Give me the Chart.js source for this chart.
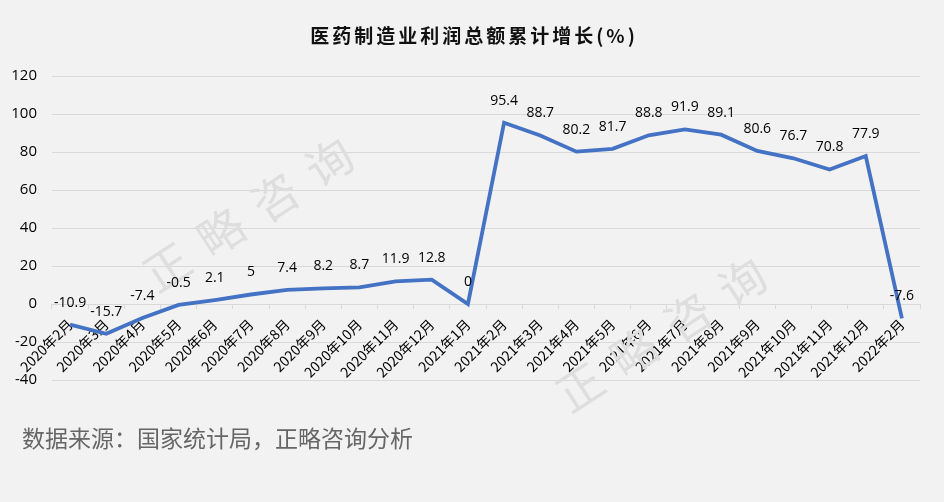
<!DOCTYPE html>
<html>
<head>
<meta charset="utf-8">
<script src="https://cdn.jsdelivr.net/npm/chart.js@4"></script>
<style>
  html, body { margin: 0; padding: 0; background: #f2f2f2; }
  #wrap { position: relative; width: 944px; height: 502px; }
  #title {
    position: absolute; left: 0; top: 22px; width: 944px; text-align: center;
    font: bold 19px "Noto Sans CJK SC", sans-serif; color: #111;
    letter-spacing: 3px; line-height: 26px; padding-left: 4px; box-sizing: border-box;
  }
  #source {
    position: absolute; left: 22px; top: 420px;
    font: 23px "Noto Sans CJK SC", sans-serif; color: #666;
  }
</style>
</head>
<body>
<div id="wrap">
  <canvas id="chart" width="944" height="502"></canvas>
  <div id="title">医药制造业利润总额累计增长(%)</div>
  <div id="source">数据来源：国家统计局，正略咨询分析</div>
</div>
<script>
const months = [
  "2020年2月", "2020年3月", "2020年4月", "2020年5月", "2020年6月", "2020年7月",
  "2020年8月", "2020年9月", "2020年10月", "2020年11月", "2020年12月", "2021年1月",
  "2021年2月", "2021年3月", "2021年4月", "2021年5月", "2021年6月", "2021年7月",
  "2021年8月", "2021年9月", "2021年10月", "2021年11月", "2021年12月", "2022年2月"
];
const growth = [
  -10.9, -15.7, -7.4, -0.5, 2.1, 5, 7.4, 8.2, 8.7, 11.9, 12.8, 0,
  95.4, 88.7, 80.2, 81.7, 88.8, 91.9, 89.1, 80.6, 76.7, 70.8, 77.9, -7.6
];
const yTicks = [-40, -20, 0, 20, 40, 60, 80, 100, 120];

const LABEL_FONT = '14px "Open Sans", "Noto Sans", sans-serif';

// faint watermark behind the line
const watermark = {
  id: "watermark",
  beforeDatasetsDraw(chart) {
    const ctx = chart.ctx;
    const starts = [[167, 267], [580, 387]];
    const chars = ["正", "略", "咨", "询"];
    ctx.save();
    ctx.fillStyle = "#dedede";
    ctx.font = '46px "Noto Sans CJK SC", sans-serif';
    ctx.textAlign = "center";
    ctx.textBaseline = "middle";
    for (const [sx, sy] of starts) {
      chars.forEach((c, i) => {
        ctx.save();
        ctx.translate(sx + i * 54, sy - i * 35);
        ctx.rotate(-33 * Math.PI / 180);
        ctx.fillText(c, 0, 0);
        ctx.restore();
      });
    }
    ctx.restore();
  },
};

// value labels above each point
const valueLabels = {
  id: "valueLabels",
  afterDatasetsDraw(chart) {
    const ctx = chart.ctx;
    const meta = chart.getDatasetMeta(0);
    ctx.save();
    ctx.fillStyle = "#000";
    ctx.font = LABEL_FONT;
    ctx.textAlign = "center";
    ctx.textBaseline = "middle";
    meta.data.forEach((pt, i) => {
      ctx.fillText(String(growth[i]), pt.x, pt.y - 22);
    });
    ctx.restore();
  },
};

new Chart(document.getElementById("chart"), {
  type: "line",
  data: {
    labels: months,
    datasets: [
      {
        label: "医药制造业利润总额累计增长(%)",
        data: growth,
        borderColor: "#4472c4",
        borderWidth: 3.8,
        pointRadius: 0,
        tension: 0,
      },
    ],
  },
  options: {
    responsive: false,
    animation: false,
    layout: {
      padding: { left: 0, right: 24, top: 76, bottom: 122 },
    },
    plugins: {
      legend: { display: false },
      tooltip: { enabled: false },
      title: { display: false },
    },
    scales: {
      x: {
        offset: true,
        position: { y: 0 },
        border: { display: false },
        grid: {
          display: true,
          offset: true,
          drawOnChartArea: false,
          tickLength: 5,
          color: "#d9d9d9",
        },
        ticks: {
          autoSkip: false,
          maxRotation: 45,
          minRotation: 45,
          padding: 7,
          color: "#000",
          font: { family: '"Noto Sans CJK SC", sans-serif', size: 14 },
        },
      },
      y: {
        min: -40,
        max: 120,
        border: { display: false },
        grid: { color: "#d9d9d9", drawTicks: false },
        afterFit(scale) {
          scale.width = 52;
        },
        afterBuildTicks(scale) {
          scale.ticks = yTicks.map((v) => ({ value: v }));
        },
        ticks: {
          padding: 15,
          color: "#000",
          font: { family: '"Open Sans", "Noto Sans", sans-serif', size: 15 },
        },
      },
    },
  },
  plugins: [watermark, valueLabels],
});
</script>
</body>
</html>
